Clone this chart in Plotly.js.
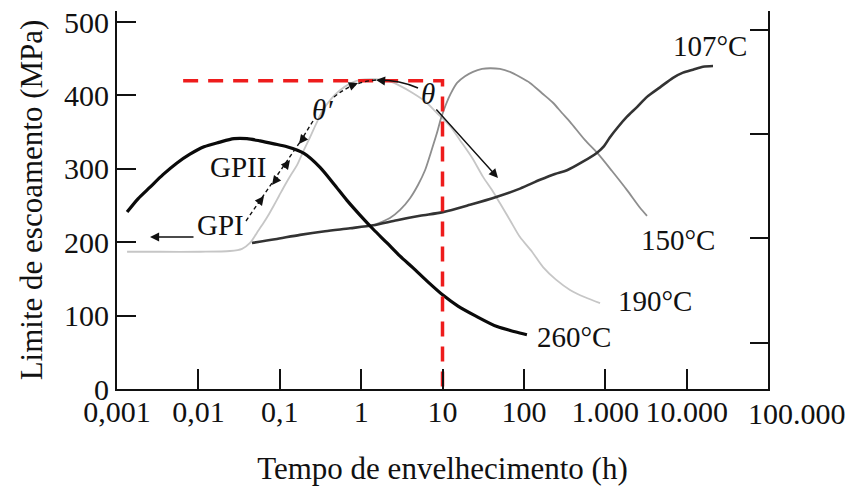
<!DOCTYPE html>
<html>
<head>
<meta charset="utf-8">
<script src="https://cdn.plot.ly/plotly-3.0.1.min.js"></script>
<style>html,body{margin:0;padding:0;background:#fff;}#chart{width:853px;height:493px;}</style>
</head>
<body>
<div id="chart"></div>
<script>
// ---- data (time in hours, yield strength in MPa) ----
const t260 = [0.00133, 0.00181, 0.00255, 0.00367, 0.00546, 0.00788, 0.01172, 0.0179, 0.0274, 0.0396, 0.0572, 0.0849, 0.1227, 0.1986, 0.3126, 0.4645, 0.670, 0.968, 1.40, 2.08, 3.01, 4.35, 6.46, 10.1, 15.5, 25.1, 46.8, 77.8, 109];
const s260 = [241, 259, 275, 292, 308, 320, 330, 336, 341, 341, 338, 334, 330, 321, 302, 279, 257, 237, 218, 199, 181, 165, 147, 128, 113, 100, 85, 78, 74];

const t190 = [0.00133, 0.00337, 0.0105, 0.0245, 0.0344, 0.0431, 0.0525, 0.0622, 0.0717, 0.0826, 0.0979, 0.116, 0.1375, 0.163, 0.193, 0.2355, 0.279, 0.340, 0.426, 0.550, 0.730, 0.968, 1.48, 2.14, 3.01, 4.35, 6.10, 8.56, 12.4, 16.4, 23.1, 31.5, 40.6, 50.9, 67.6, 89.6, 126, 172, 248, 369, 564, 863];
const s190 = [187, 187, 187, 188, 191, 199, 213, 225, 236, 248, 263, 278, 292, 305, 323, 343, 361, 380, 395, 407, 416, 421, 422, 420, 413, 403, 392, 376, 358, 339, 315, 289, 271, 253, 230, 207, 187, 166, 149, 135, 125, 117];

const t150 = [1.40, 2.26, 3.01, 3.99, 5.00, 6.10, 7.23, 8.56, 9.59, 11.05, 12.7, 15.1, 18.9, 23.7, 30.6, 38.4, 50.9, 67.6, 89.8, 119, 167, 228, 294, 369, 565, 793, 1211, 1851, 2673, 3260];
const s150 = [223, 233, 244, 260, 278, 298, 323, 349, 369, 388, 403, 417, 426, 432, 436, 437, 436, 432, 425, 417, 403, 390, 376, 364, 339, 322, 297, 271, 247, 236];

const t107 = [0.0456, 0.0875, 0.1774, 0.360, 0.730, 1.40, 2.76, 5.29, 10.1, 21.8, 46.8, 89.6, 158, 241, 339, 518, 793, 966, 1144, 1435, 1851, 2455, 3260, 4710, 6800, 9030, 11980, 15900, 21100];
const s107 = [199, 204, 210, 215, 219, 223, 230, 236, 241, 251, 262, 273, 285, 293, 298, 309, 322, 331, 343, 357, 371, 384, 398, 411, 424, 431, 435, 439, 440];

const seriesNames = ['190°C', '150°C', '107°C', '260°C'];

// reference (red dashed) lines: peak strength and time
const refStart = 0.0065;
const refTime = 10;
const refStrength = 420;

// tick values / labels
const xTickVals = [0.001, 0.01, 0.1, 1, 10, 100, 1000, 10000, 100000];
const xTickText = ['0,001', '0,01', '0,1', '1', '10', '100', '1.000', '10.000', ''];
const lastXTickText = '100.000';
const yTickVals = [0, 100, 200, 300, 400, 500];
const rightTickVals = [63, 206, 347, 489];

const serif = 'Liberation Serif, Times New Roman, serif';
const sm = 0.8;

const traces = [
  {x: t190, y: s190, name: seriesNames[0], mode: 'lines', line: {color: '#c6c6c6', width: 1.8, shape: 'spline', smoothing: sm}},
  {x: t150, y: s150, name: seriesNames[1], mode: 'lines', line: {color: '#8e8e8e', width: 1.8, shape: 'spline', smoothing: sm}},
  {x: t107, y: s107, name: seriesNames[2], mode: 'lines', line: {color: '#333333', width: 2.6, shape: 'spline', smoothing: sm}},
  {x: t260, y: s260, name: seriesNames[3], mode: 'lines', line: {color: '#0a0a0a', width: 3.2, shape: 'spline', smoothing: sm}},
  {x: [refStart, refTime, refTime], y: [refStrength, refStrength, 0], mode: 'lines',
   line: {color: '#ee1c1c', width: 3.5, dash: '15px,10px'}},
  {x: [null], y: [null], yaxis: 'y2', mode: 'lines', showlegend: false}
];

// paper-coordinate helpers for decorations (plot area: 117..768 x 11..389 px)
const P = (px) => (px - 117) / 651;
const Q = (py) => (389 - py) / 378;

function label(text, px, py, size, italic) {
  return {xref: 'paper', yref: 'paper', x: P(px), y: Q(py), text: italic ? '<i>' + text + '</i>' : text,
          showarrow: false, xanchor: 'center', yanchor: 'middle',
          font: {family: serif, size: size, color: '#111'}};
}
function head(px, py, ax, ay) {
  return {xref: 'paper', yref: 'paper', x: P(px), y: Q(py), ax: ax, ay: ay, text: '',
          showarrow: true, arrowhead: 2, arrowsize: 1.3, arrowwidth: 1.4, arrowcolor: '#111', standoff: 0};
}

const annotations = [
  label('107°C', 710, 46, 29),
  label('150°C', 678, 240, 29),
  label('190°C', 655, 301, 29),
  label('260°C', 574, 337, 29),
  label('GPII', 238, 167, 29),
  label('GPI', 220, 225, 29),
  label('θ′', 322, 110, 29, true),
  label('θ', 428, 94, 29, true),
  head(150, 237, 45, 0),
  head(264, 196, -7, 9),
  head(272, 185, 7, -9),
  head(290, 160, -7, 9),
  head(299, 144, 7, -9),
  head(358, 83, -10, 4),
  head(376, 80, 10, 1),
  head(498, 178, -63, -70),
  {xref: 'x', yref: 'paper', x: 5, y: 0, yanchor: 'top', xanchor: 'center', xshift: 29, yshift: -6,
   text: lastXTickText, showarrow: false, font: {family: serif, size: 30, color: '#111'}}
];

const shapes = [
  {type: 'path', xref: 'paper', yref: 'paper',
   path: `M ${P(246)} ${Q(221)} L ${P(300)} ${Q(142)}`,
   line: {color: '#111', width: 1.4, dash: '4px,3px'}},
  {type: 'path', xref: 'paper', yref: 'paper',
   path: `M ${P(313)} ${Q(121)} L ${P(300)} ${Q(142)}`,
   line: {color: '#111', width: 1.4, dash: '4px,3px'}},
  {type: 'path', xref: 'paper', yref: 'paper',
   path: `M ${P(334)} ${Q(97)} Q ${P(352)} ${Q(82)} ${P(376)} ${Q(80)}`,
   line: {color: '#111', width: 1.4, dash: '4px,3px'}},
  {type: 'path', xref: 'paper', yref: 'paper',
   path: `M ${P(378)} ${Q(80)} Q ${P(400)} ${Q(80)} ${P(418)} ${Q(88)}`,
   line: {color: '#111', width: 1.6}}
];

const layout = {
  width: 853, height: 493,
  margin: {l: 117, r: 85, t: 11, b: 104},
  paper_bgcolor: '#fff', plot_bgcolor: '#fff',
  showlegend: false,
  font: {family: serif, size: 30, color: '#111'},
  xaxis: {
    type: 'log', range: [-3, 5],
    tickvals: xTickVals, ticktext: xTickText,
    ticks: 'inside', ticklen: 20, tickwidth: 2, tickcolor: '#111',
    ticklabelstandoff: -5,
    showline: true, linewidth: 2, linecolor: '#111', mirror: false,
    showgrid: false, zeroline: false,
    tickfont: {family: serif, size: 30, color: '#111'},
    title: {text: 'Tempo de envelhecimento (h)', font: {family: serif, size: 31, color: '#111'}, standoff: 30}
  },
  yaxis: {
    range: [0, 515],
    tickvals: yTickVals,
    ticks: 'inside', ticklen: 19, tickwidth: 2, tickcolor: '#111',
    showline: true, linewidth: 2, linecolor: '#111',
    showgrid: false, zeroline: false,
    tickfont: {family: serif, size: 30, color: '#111'},
    title: {text: 'Limite de escoamento (MPa)', font: {family: serif, size: 31, color: '#111'}, standoff: 12}
  },
  yaxis2: {
    overlaying: 'y', side: 'right', range: [0, 515],
    tickvals: rightTickVals, showticklabels: false,
    ticks: 'inside', ticklen: 18, tickwidth: 2, tickcolor: '#111',
    showline: true, linewidth: 2, linecolor: '#111',
    showgrid: false, zeroline: false
  },
  annotations: annotations,
  shapes: shapes
};

Plotly.newPlot('chart', traces, layout, {displayModeBar: false, staticPlot: true});
</script>
</body>
</html>
